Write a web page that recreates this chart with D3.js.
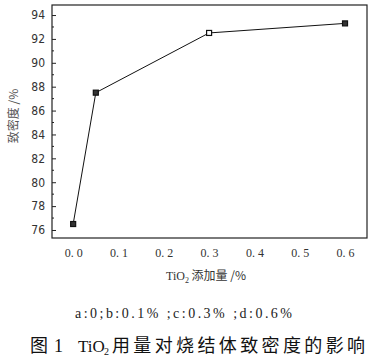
<!DOCTYPE html>
<html><head><meta charset="utf-8">
<script src="https://cdn.jsdelivr.net/npm/d3@7/dist/d3.min.js"></script>
<style>body{margin:0;background:#fff}svg{display:block}</style>
</head><body>
<svg id="c" width="375" height="356"></svg>
<script>
const xValues = [0, 0.05, 0.3, 0.6];
const densityValues = [76.5, 87.5, 92.5, 93.3];
const xTicks = [0, 0.1, 0.2, 0.3, 0.4, 0.5, 0.6];
const yTicks = [76, 78, 80, 82, 84, 86, 88, 90, 92, 94];
const yMinor = [77, 79, 81, 83, 85, 87, 89, 91, 93];
const xLabel = "添加量 /%";
const yLabel = "致密度 /%";
const noteText = "a:0;b:0.1% ;c:0.3% ;d:0.6%";
const captionText = "用量对烧结体致密度的影响";

const svg = d3.select("#c");
const L = 52, R = 367, T = 5, B = 238;
const x = d3.scaleLinear().domain([-0.0467, 0.6485]).range([L, R]);
const y = d3.scaleLinear().domain([75.33, 94.84]).range([B, T]);

// frame
svg.append("rect").attr("x", L).attr("y", T).attr("width", R - L).attr("height", B - T)
  .attr("fill", "none").attr("stroke", "#222").attr("stroke-width", 1.2);

// y axis ticks (inward)
const yAxis = d3.axisLeft(y).tickValues(yTicks).tickSize(-4).tickPadding(7)
  .tickFormat(d3.format("d"));
const gy = svg.append("g").attr("transform", `translate(${L},0)`).call(yAxis);
gy.select(".domain").remove();
gy.selectAll("line").attr("stroke", "#222");
gy.selectAll("text").attr("font-family", "'Liberation Sans Narrow','DejaVu Sans Condensed',sans-serif")
  .attr("font-size", 12).attr("fill", "#333");
svg.append("g").selectAll("line").data(yMinor).join("line")
  .attr("x1", L).attr("x2", L + 2).attr("y1", d => y(d)).attr("y2", d => y(d)).attr("stroke", "#222");

// x axis
const xAxis = d3.axisBottom(x).tickValues(xTicks).tickSize(0).tickPadding(10)
  .tickFormat(d => d3.format(".1f")(d).replace(".", ". "));
const gx = svg.append("g").attr("transform", `translate(0,${B})`).call(xAxis);
gx.select(".domain").remove();
gx.selectAll("text").attr("font-family", "'Liberation Serif',serif")
  .attr("font-size", 12).attr("fill", "#333");

// axis titles
const xt = svg.append("text").attr("x", 206).attr("y", 280).attr("text-anchor", "middle")
  .attr("font-size", 12).attr("fill", "#333").attr("font-family", "'Liberation Serif','Noto Sans CJK SC',serif");
xt.append("tspan").text("TiO");
xt.append("tspan").attr("font-size", 8).attr("dy", 3).text("2");
xt.append("tspan").attr("dy", -3).attr("font-family", "'Noto Sans CJK SC',sans-serif").text(" " + xLabel);

svg.append("text").attr("transform", "translate(18,116) rotate(-90)").attr("text-anchor", "middle")
  .attr("font-size", 12).attr("fill", "#555").attr("font-family", "'Noto Sans CJK SC',sans-serif")
  .text(yLabel);

// line
const pts = xValues.map((v, i) => [v, densityValues[i]]);
svg.append("path").datum(pts)
  .attr("d", d3.line().x(d => x(d[0])).y(d => y(d[1])))
  .attr("fill", "none").attr("stroke", "#111").attr("stroke-width", 1);
svg.append("g").selectAll("rect").data(pts).join("rect")
  .attr("x", d => x(d[0]) - 2.5).attr("y", d => y(d[1]) - 2.5).attr("width", 5).attr("height", 5)
  .attr("fill", (d, i) => i === 2 ? "#fff" : "#333").attr("stroke", "#111").attr("stroke-width", 1.2);

// note
svg.append("text").attr("x", 75).attr("y", 318).attr("font-size", 14)
  .attr("font-family", "'Liberation Serif',serif").attr("fill", "#222")
  .attr("textLength", 217).attr("lengthAdjust", "spacing").text(noteText);

// caption
const cap = svg.append("g").attr("fill", "#111");
cap.append("text").attr("x", 30).attr("y", 352).attr("font-size", 18)
  .attr("font-family", "'Noto Sans CJK SC',sans-serif").text("图");
cap.append("text").attr("x", 54).attr("y", 352).attr("font-size", 18)
  .attr("font-family", "'Liberation Serif',serif").text("1");
cap.append("text").attr("x", 78).attr("y", 352).attr("font-size", 17)
  .attr("font-family", "'Liberation Serif',serif").text("TiO");
cap.append("text").attr("x", 104).attr("y", 355).attr("font-size", 10)
  .attr("font-family", "'Liberation Serif',serif").text("2");
cap.append("text").attr("x", 112).attr("y", 352).attr("font-size", 18)
  .attr("font-family", "'Noto Sans CJK SC',sans-serif")
  .attr("textLength", 253).attr("lengthAdjust", "spacing").text(captionText);
</script>
</body></html>
